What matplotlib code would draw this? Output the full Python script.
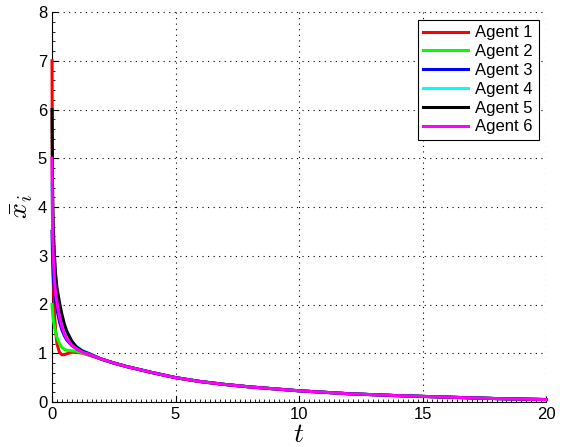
import matplotlib
matplotlib.use("Agg")
import matplotlib.pyplot as plt
from matplotlib.ticker import MultipleLocator

plt.rcParams['font.family'] = ['Liberation Sans', 'DejaVu Sans']
plt.rcParams['mathtext.fontset'] = 'cm'

# sample times (dense near t=0 where the transient is fast)
t = [0, 0.02, 0.05, 0.1, 0.15, 0.2, 0.3, 0.4, 0.5, 0.6, 0.8, 1.0, 1.25, 1.5,
     2, 2.5, 3, 4, 5, 6, 7, 8, 9, 10, 12, 14, 16, 18, 20]

# common slow tail shared by all agents from t=2 on
tail = [0.88, 0.80, 0.73, 0.61, 0.50, 0.42, 0.36, 0.31, 0.27, 0.23, 0.17, 0.13, 0.10, 0.07, 0.05]

agent1 = [7.0, 4.0, 2.5, 1.8, 1.45, 1.2, 1.02, 0.97, 0.97, 0.99, 1.02, 1.02, 1.0, 0.96] + tail
agent2 = [2.0, 1.85, 1.7, 1.55, 1.42, 1.32, 1.2, 1.12, 1.08, 1.06, 1.05, 1.04, 1.01, 0.97] + tail
agent3 = [3.5, 3.0, 2.6, 2.25, 2.05, 1.9, 1.65, 1.48, 1.36, 1.27, 1.16, 1.09, 1.03, 0.98] + tail
agent4 = [4.5, 3.8, 3.3, 2.8, 2.5, 2.25, 1.95, 1.72, 1.55, 1.42, 1.24, 1.13, 1.05, 1.0] + tail
agent5 = [6.0, 4.5, 3.6, 3.0, 2.6, 2.35, 2.05, 1.8, 1.6, 1.45, 1.25, 1.12, 1.04, 0.99] + tail
agent6 = [5.0, 3.8, 3.0, 2.5, 2.2, 2.05, 1.75, 1.55, 1.4, 1.3, 1.17, 1.09, 1.02, 0.98] + tail

series = [agent1, agent2, agent3, agent4, agent5, agent6]
labels = ["Agent 1", "Agent 2", "Agent 3", "Agent 4", "Agent 5", "Agent 6"]
colors = ["#ff0000", "#00ff00", "#0000ff", "#00ffff", "#000000", "#ff00ff"]

fig = plt.figure(figsize=(5.62, 4.47), dpi=100)
# axes box: left 52px, right 546px, top 12px, bottom 402px
ax = fig.add_axes([52/562, 45/447, 494/562, 390/447])

for y, lab, c in zip(series, labels, colors):
    ax.plot(t, y, color=c, lw=2.2, label=lab, zorder=3, clip_on=False)

ax.set_xlim(0, 20)
ax.set_ylim(0, 8)
ax.xaxis.set_major_locator(MultipleLocator(5))
ax.yaxis.set_major_locator(MultipleLocator(1))
ax.xaxis.set_minor_locator(MultipleLocator(0.2))
ax.yaxis.set_minor_locator(MultipleLocator(0.2))
ax.tick_params(which='both', direction='in', labelsize=12)
ax.tick_params(which='major', length=4)
ax.tick_params(which='minor', length=2)
ax.spines['top'].set_visible(False)
ax.spines['right'].set_visible(False)
ax.grid(True, which='major', color='black', linestyle=(0, (1, 4)), linewidth=0.8)

ax.set_xlabel(r"$t$", fontsize=20, labelpad=0)
ax.set_ylabel(r"$\bar{x}_i$", fontsize=20, labelpad=2)

leg = ax.legend(loc='upper right', fontsize=12, fancybox=False, framealpha=1,
                edgecolor='black', handlelength=2.7, borderaxespad=0.45,
                labelspacing=0.23, handletextpad=0.4, borderpad=0.35)
leg.get_frame().set_linewidth(0.8)
leg.set_zorder(5)

fig.savefig("out.png", dpi=100)
